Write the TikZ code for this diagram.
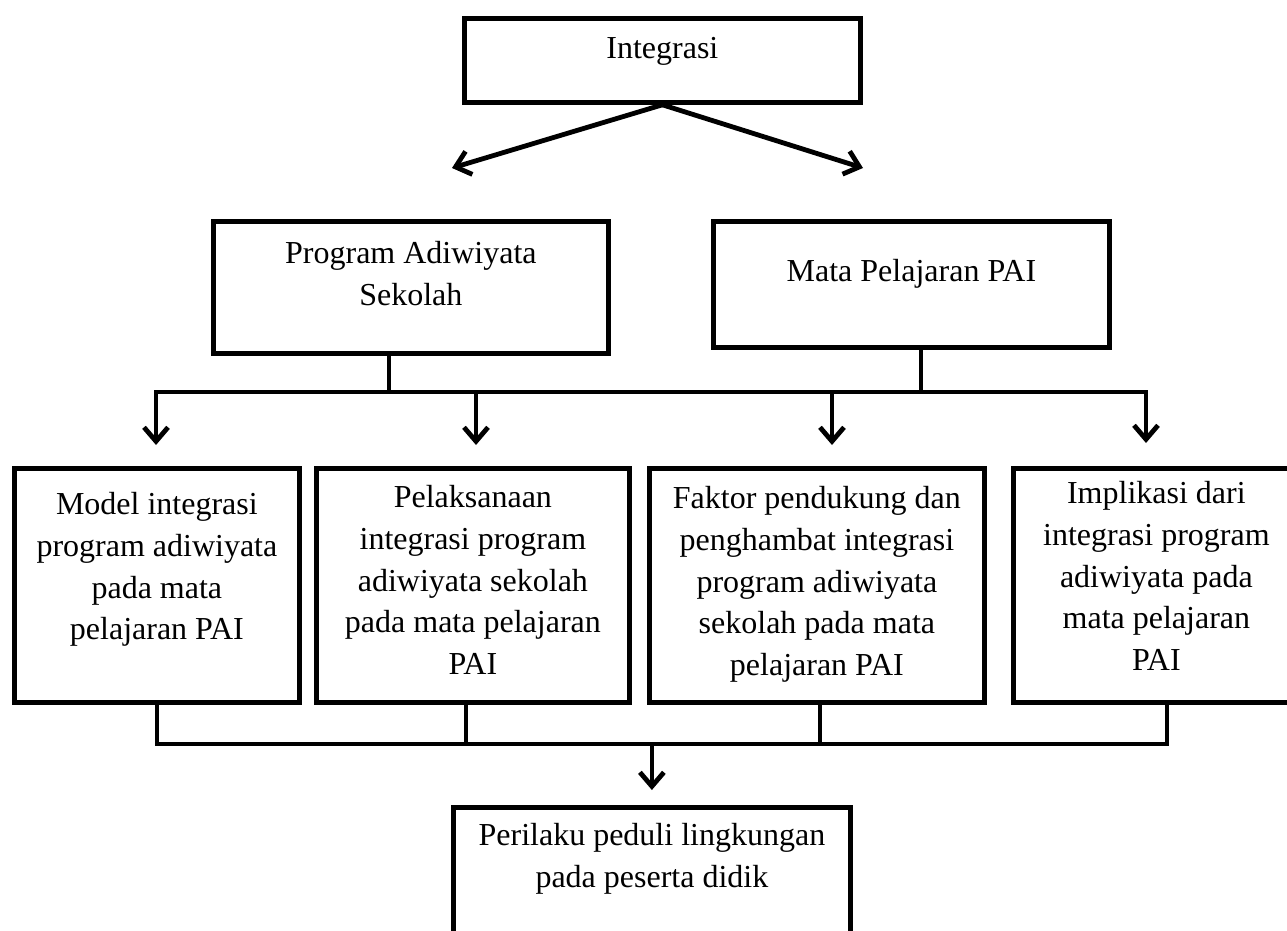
\documentclass[tikz,border=0pt]{standalone}
\usepackage{fontspec}
\setmainfont{Liberation Serif}
\usetikzlibrary{arrows.meta,positioning}

\tikzset{
  garis/.style={line width=2.4pt},
  panah/.style={garis, -{Straight Barb[length=7pt,width=12pt]}},
  kotak/.style 2 args={draw, line width=2.4pt, inner sep=0pt, minimum width=#1, minimum height=#2, anchor=north west},
  teks/.style={align=center, inner sep=0pt, font=\fontsize{16pt}{20.85pt}\selectfont}
}

\begin{document}
\begin{tikzpicture}[x=0.5pt, y=-0.5pt]

\useasboundingbox (0,0) rectangle (1287,931);
\clip (0,0) rectangle (1287,931);

\node[kotak={198pt}{42pt}] (integrasi) at (462,16) {};
\node[teks, below=10.5pt of integrasi.north] (integrasiT) {Integrasi};

\coordinate (kiri) at (452,168);
\coordinate (kanan) at (863,168);
\draw[panah] (integrasi.south) -- (kiri);
\draw[panah] (integrasi.south) -- (kanan);

\node[kotak={197.5pt}{66pt}] (adiwiyata) at (211,219) {};
\node[teks, below=11pt of adiwiyata.north] (adiwiyataT) {Program Adiwiyata\\Sekolah};
\node[kotak={198pt}{63pt}] (mapel) at (711,219) {};
\node[teks, below=20pt of mapel.north] (mapelT) {Mata Pelajaran PAI};

\coordinate (cabangA) at (389,392);
\coordinate (cabangB) at (921,392);
\coordinate (bus1) at (156,392);
\coordinate (bus2) at (476,392);
\coordinate (bus3) at (832,392);
\coordinate (bus4) at (1146,392);
\draw[garis] (adiwiyata.south -| cabangA) -- (cabangA);
\draw[garis] (mapel.south -| cabangB) -- (cabangB);
\draw[garis, line cap=rect] (bus1) -- (bus4);

\node[kotak={142.5pt}{117pt}] (model) at (12,466) {};
\node[teks, below=13pt of model.north] (modelT) {Model integrasi\\program adiwiyata\\pada mata\\pelajaran PAI};
\node[kotak={156.5pt}{117pt}] (pelaksanaan) at (314,466) {};
\node[teks, below=9.5pt of pelaksanaan.north] (pelaksanaanT) {Pelaksanaan\\integrasi program\\adiwiyata sekolah\\pada mata pelajaran\\PAI};
\node[kotak={167.5pt}{117pt}] (faktor) at (647,466) {};
\node[teks, below=10pt of faktor.north] (faktorT) {Faktor pendukung dan\\penghambat integrasi\\program adiwiyata\\sekolah pada mata\\pelajaran PAI};
\node[kotak={143pt}{117pt}] (implikasi) at (1011,466) {};
\node[teks, below=7.5pt of implikasi.north] (implikasiT) {Implikasi dari\\integrasi program\\adiwiyata pada\\mata pelajaran\\PAI};

\draw[panah, shorten >=10.5pt] (bus1) -- (model.north -| bus1);
\draw[panah, shorten >=10.5pt] (bus2) -- (pelaksanaan.north -| bus2);
\draw[panah, shorten >=10.5pt] (bus3) -- (faktor.north -| bus3);
\draw[panah, shorten >=11.5pt] (bus4) -- (implikasi.north -| bus4);

\coordinate (kumpul1) at (157,744);
\coordinate (kumpul2) at (466,744);
\coordinate (kumpul3) at (820,744);
\coordinate (kumpul4) at (1167,744);
\draw[garis] (model.south -| kumpul1) -- (kumpul1);
\draw[garis] (pelaksanaan.south -| kumpul2) -- (kumpul2);
\draw[garis] (faktor.south -| kumpul3) -- (kumpul3);
\draw[garis] (implikasi.south -| kumpul4) -- (kumpul4);
\draw[garis, line cap=rect] (kumpul1) -- (kumpul4);

\node[kotak={198.5pt}{80pt}] (perilaku) at (451,805) {};
\node[teks, below=9pt of perilaku.north] (perilakuT) {Perilaku peduli lingkungan\\pada peserta didik};
\draw[panah, shorten >=7.5pt] (kumpul1 -| perilaku.north) -- (perilaku.north);

\end{tikzpicture}
\end{document}
